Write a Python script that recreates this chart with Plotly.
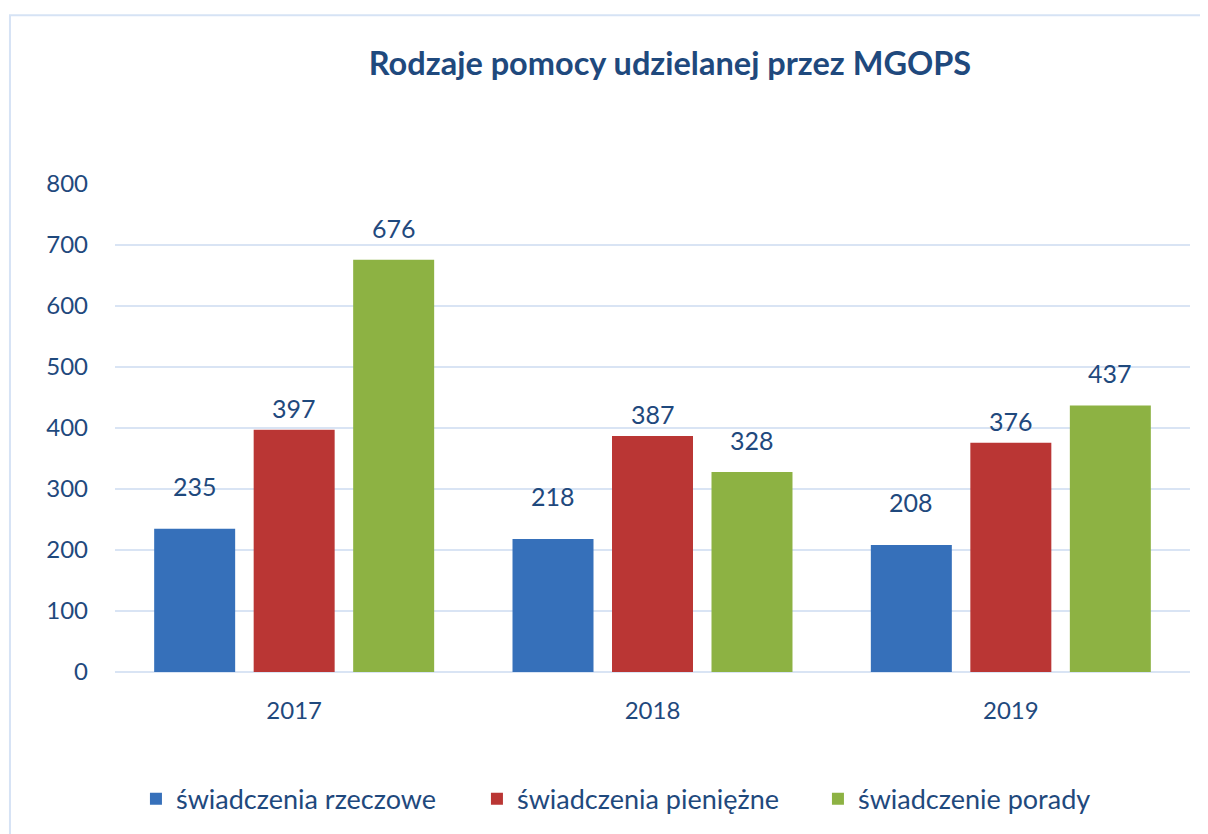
import plotly.graph_objects as go

years = ["2017", "2018", "2019"]
series_names = ["świadczenia rzeczowe", "świadczenia pieniężne", "świadczenie porady"]
rzeczowe = [235, 218, 208]
pieniezne = [397, 387, 376]
porady = [676, 328, 437]
series_values = [rzeczowe, pieniezne, porady]
y_ticks = [0, 100, 200, 300, 400, 500, 600, 700, 800]

colors = ["#3670BA", "#BA3634", "#8DB243"]
label_xshift = [-99.5, 0, 99.5]
label_yshift = [26, 5, 15]
text_color = "#1F497D"
font_family = "Lato, 'Open Sans', sans-serif"

W, H = 1200, 826  # page has an 8px body margin

fig = go.Figure()
for name, vals, c in zip(series_names, series_values, colors):
    fig.add_trace(go.Bar(
        x=years, y=vals, name=name,
        marker=dict(color=c, line=dict(width=0)),
    ))

annotations = []
for vals, xs, ys in zip(series_values, label_xshift, label_yshift):
    for i, v in enumerate(vals):
        annotations.append(dict(
            x=i, y=v, xref="x", yref="y", text=str(v), showarrow=False,
            xanchor="center", yanchor="bottom", xshift=xs, yshift=ys,
            font=dict(size=25, color=text_color, family=font_family),
        ))

fig.update_layout(
    width=W, height=H,
    margin=dict(l=107, r=18, t=176, b=161),
    paper_bgcolor="white", plot_bgcolor="white",
    barmode="group", bargap=0.167, bargroupgap=0.186,
    font=dict(family=font_family, color=text_color, size=24),
    title=dict(
        text="<b>Rodzaje pomocy udzielanej przez MGOPS</b>",
        x=662 / W, xanchor="center", y=1 - 56 / H, yanchor="middle",
        font=dict(size=32.5, color=text_color, family=font_family),
    ),
    showlegend=True,
    legend=dict(
        orientation="h", x=0.4953, xanchor="center", y=-0.258, yanchor="middle",
        font=dict(size=27, color=text_color), entrywidth=296,
        itemclick=False,
    ),
    annotations=annotations,
    shapes=[dict(
        type="rect", xref="paper", yref="paper",
        x0=-0.0977, x1=1.05, y0=-0.4, y1=1.3456,
        line=dict(color="#D6E3F5", width=2), fillcolor="rgba(0,0,0,0)", layer="below",
    )],
)
fig.update_xaxes(
    type="category", range=[-0.5, 2.5], showgrid=False, showline=False, ticks="",
    ticklabelstandoff=22, tickfont=dict(size=24, color=text_color),
)
fig.update_yaxes(
    range=[0, 800], tickvals=y_ticks, showgrid=True, gridcolor="#D9E4F4", gridwidth=1.5,
    zeroline=True, zerolinecolor="#D9E4F4", zerolinewidth=1.5, showline=False,
    ticks="", ticklabelstandoff=26, tickfont=dict(size=24, color=text_color),
)

fig.write_html("out.html")
